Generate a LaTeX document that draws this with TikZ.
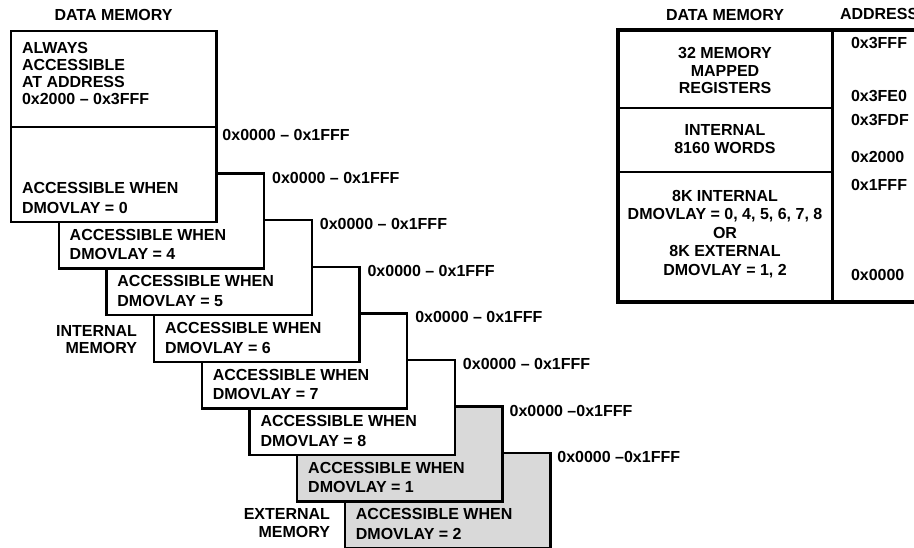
\documentclass[tikz,border=0pt]{standalone}
\usepackage{fontspec}
\setmainfont{Liberation Sans}
\definecolor{extgray}{RGB}{217,217,217}
\begin{document}
\begin{tikzpicture}[x=0.75pt,y=-0.75pt,
  every node/.style={inner sep=0pt, outer sep=0pt},
  txt/.style={font=\fontsize{12}{14.6}\selectfont\bfseries},
  membox/.style={draw, line width=1.8pt, minimum width=154.1pt, minimum height=71.25pt, anchor=north west},
  boxtext/.style={txt, anchor=west, align=left},
  lbl/.style={txt, anchor=west},
  cell/.style={draw, line width=1.6pt, anchor=north west},
  ctext/.style={anchor=center, align=center},
  addr/.style={txt, anchor=west}]
\useasboundingbox (0,0) rectangle (914,548);
\clip (0,0) rectangle (914,548);

% headings
\node[txt] (h1) at (113.5,15) {DATA MEMORY};
\node[txt] (h2) at (725,15) {DATA MEMORY};
\node[txt, anchor=west] (h3) at (840,14) {ADDRESS};

% stacked overlay boxes (back to front)
\foreach \n/\v/\c in {7/2/extgray,6/1/extgray,5/8/white,4/7/white,3/6/white,2/5/white,1/4/white,0/0/white}{
  \node[membox, fill=\c] (b\n) at ({11+47.7*\n},{127+46.6*\n}) {};
  \node[boxtext] (t\n) at ([shift={(11,-24)}]b\n.south west) {ACCESSIBLE WHEN\\DMOVLAY = \v};
}

% always accessible box
\node[membox, fill=white, minimum height=72pt] (top) at (11,31) {};
\node[txt, anchor=west, align=left, font=\fontsize{12}{12.75}\selectfont\bfseries] (toptext) at (22,73.5)
  {ALWAYS\\ACCESSIBLE\\AT ADDRESS\\0x2000 -- 0x3FFF};

% address labels
\node[lbl] (l0) at ([shift={(6,8)}]b0.north east) {0x0000 -- 0x1FFF};
\foreach \n in {1,...,5}{
  \node[lbl] (l\n) at ([shift={(8,4)}]b\n.north east) {0x0000 -- 0x1FFF};
}
\foreach \n in {6,7}{
  \node[lbl] (l\n) at ([shift={(7,4)}]b\n.north east) {0x0000 --0x1FFF};
}

% side labels
\node[txt, anchor=east, align=right, font=\fontsize{12}{13.2}\selectfont\bfseries] (intmem) at (137,339.5) {INTERNAL\\MEMORY};
\node[txt, anchor=east, align=right, font=\fontsize{12}{13.2}\selectfont\bfseries] (extmem) at (330,523) {EXTERNAL\\MEMORY};

% memory map table
\node[cell, minimum width=160.9pt, minimum height=58.5pt] (reg) at (618,30) {};
\node[cell, minimum width=160.9pt, minimum height=48pt] (int) at (618,108) {};
\node[cell, minimum width=160.9pt, minimum height=97.5pt] (ovl) at (618,172) {};
\node[cell, minimum width=120pt, minimum height=204pt] (acol) at (832.5,30) {};
\node[draw, line width=2.4pt, minimum width=280pt, minimum height=204pt, anchor=north west] (tbl) at (618,30) {};

\node[txt, ctext, font=\fontsize{12}{13.1}\selectfont\bfseries] (regt) at (725,70.5) {32 MEMORY\\MAPPED\\REGISTERS};
\node[txt, ctext, font=\fontsize{12}{13.5}\selectfont\bfseries] (intt) at (725,139) {INTERNAL\\8160 WORDS};
\node[txt, ctext, font=\fontsize{12}{13.9}\selectfont\bfseries] (ovlt) at (725,234) {8K INTERNAL\\DMOVLAY = 0, 4, 5, 6, 7, 8\\OR\\8K EXTERNAL\\DMOVLAY = 1, 2};

\node[addr] (a1) at (851,43) {0x3FFF};
\node[addr] (a2) at (851,96) {0x3FE0};
\node[addr] (a3) at (851,120) {0x3FDF};
\node[addr] (a4) at (851,157) {0x2000};
\node[addr] (a5) at (851,185) {0x1FFF};
\node[addr] (a6) at (851,275) {0x0000};
\end{tikzpicture}
\end{document}
